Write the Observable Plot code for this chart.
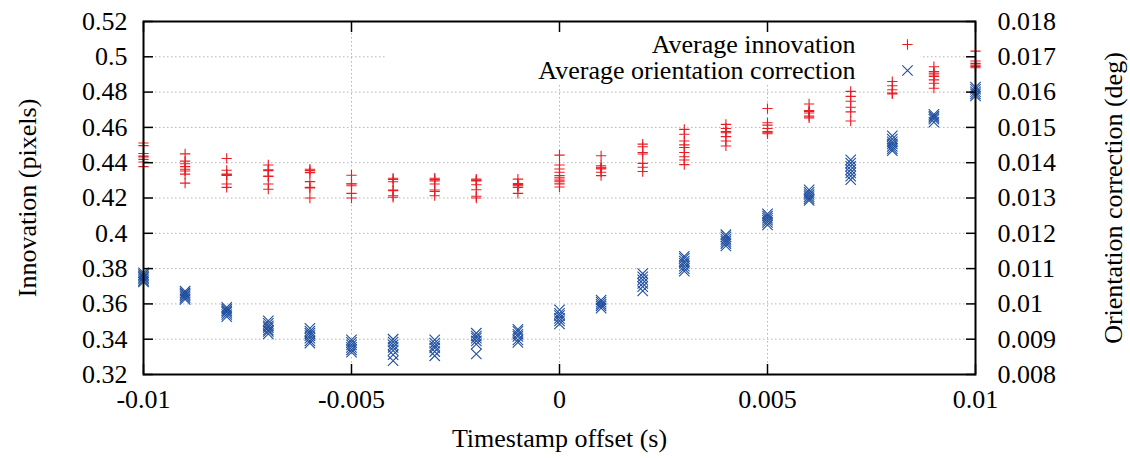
<!DOCTYPE html>
<html><head><meta charset="utf-8">
<script src="https://cdn.jsdelivr.net/npm/d3@7"></script>
<script src="https://cdn.jsdelivr.net/npm/@observablehq/plot@0.6"></script>
<style>html,body{margin:0;padding:0;background:#fff;}</style>
</head><body><div id="chart"></div>
<script>
// ---- data ----
const offsets = [-0.01,-0.009,-0.008,-0.007,-0.006,-0.005,-0.004,-0.003,-0.002,-0.001,0,0.001,0.002,0.003,0.004,0.005,0.006,0.007,0.008,0.009,0.01];
const innovation = [
  [0.4512,0.4497,0.4452,0.4437,0.4432,0.4419,0.4404,0.4378],
  [0.4450,0.4409,0.4394,0.4378,0.4363,0.4353,0.4335,0.4284],
  [0.4424,0.4357,0.4335,0.4331,0.4328,0.4279,0.4260],
  [0.4387,0.4360,0.4355,0.4325,0.4322,0.4279,0.4250],
  [0.4363,0.4355,0.4344,0.4293,0.4260,0.4257,0.4200],
  [0.4329,0.4281,0.4279,0.4269,0.4226,0.4200],
  [0.4312,0.4305,0.4292,0.4245,0.4242,0.4213,0.4204],
  [0.4312,0.4305,0.4297,0.4279,0.4245,0.4237,0.4213],
  [0.4307,0.4300,0.4297,0.4275,0.4247,0.4210,0.4200],
  [0.4307,0.4282,0.4276,0.4269,0.4260,0.4226],
  [0.4443,0.4387,0.4364,0.4346,0.4327,0.4314,0.4301,0.4292,0.4280,0.4262],
  [0.4439,0.4383,0.4374,0.4369,0.4364,0.4346,0.4327],
  [0.4505,0.4490,0.4458,0.4449,0.4396,0.4374,0.4350],
  [0.4589,0.4561,0.4523,0.4501,0.4486,0.4458,0.4434,0.4415,0.4389],
  [0.4617,0.4594,0.4576,0.4570,0.4548,0.4523,0.4495],
  [0.4707,0.4626,0.4613,0.4594,0.4576,0.4570,0.4564],
  [0.4733,0.4695,0.4690,0.4682,0.4664,0.4654],
  [0.4804,0.4776,0.4748,0.4714,0.4688,0.4636],
  [0.4860,0.4836,0.4813,0.4794,0.4790],
  [0.4944,0.4916,0.4907,0.4897,0.4888,0.4869,0.4850,0.4822],
  [0.5032,0.4976,0.4963,0.4953,0.4945,0.4938]
];
const orientation = [
  [0.01088,0.01083,0.01079,0.01075,0.01071,0.01066,0.01062],
  [0.01036,0.01031,0.01027,0.01023,0.01018,0.01013],
  [0.00990,0.00985,0.00980,0.00976,0.00970,0.00964],
  [0.00952,0.00945,0.00938,0.00933,0.00926,0.00922,0.00915],
  [0.00931,0.00923,0.00917,0.00910,0.00903,0.00895,0.00889],
  [0.00898,0.00891,0.00884,0.00877,0.00870,0.00863],
  [0.00900,0.00892,0.00884,0.00877,0.00868,0.00856,0.00839],
  [0.00898,0.00889,0.00881,0.00875,0.00865,0.00853],
  [0.00917,0.00909,0.00903,0.00895,0.00886,0.00858],
  [0.00928,0.00922,0.00914,0.00908,0.00898,0.00891],
  [0.00983,0.00973,0.00967,0.00959,0.00952,0.00943],
  [0.01011,0.01005,0.00999,0.00994,0.00988],
  [0.01086,0.01077,0.01068,0.01058,0.01049,0.01037],
  [0.01135,0.01129,0.01121,0.01115,0.01107,0.01100,0.01093],
  [0.01196,0.01190,0.01183,0.01177,0.01171,0.01164],
  [0.01255,0.01249,0.01243,0.01237,0.01231,0.01224],
  [0.01323,0.01316,0.01310,0.01304,0.01298,0.01293],
  [0.01408,0.01399,0.01390,0.01380,0.01371,0.01362,0.01352],
  [0.01476,0.01467,0.01459,0.01453,0.01446,0.01440,0.01434],
  [0.01537,0.01532,0.01528,0.01523,0.01515],
  [0.01614,0.01608,0.01601,0.01595,0.01589]
];
const seriesNames = ["Average innovation", "Average orientation correction"];
const xTitle = "Timestamp offset (s)";
const yLeftTitle = "Innovation (pixels)";
const yRightTitle = "Orientation correction (deg)";
const xDomain = [-0.01, 0.01];
const leftDomain = [0.32, 0.52];
const rightDomain = [0.008, 0.018];
const xTicks = [-0.01, -0.005, 0, 0.005, 0.01];
const xTickLabels = ["-0.01", "-0.005", "0", "0.005", "0.01"];
const leftTicks = [0.32,0.34,0.36,0.38,0.40,0.42,0.44,0.46,0.48,0.50,0.52];
const leftTickLabels = ["0.32","0.34","0.36","0.38","0.4","0.42","0.44","0.46","0.48","0.5","0.52"];
const rightTicks = [0.008,0.009,0.010,0.011,0.012,0.013,0.014,0.015,0.016,0.017,0.018];
const rightTickLabels = ["0.008","0.009","0.01","0.011","0.012","0.013","0.014","0.015","0.016","0.017","0.018"];

// ---- build ----
const RED = "#ec1c24", BLUE = "#1f4f9f";
const FONT = "'Liberation Serif','Times New Roman',serif";
const toLeft = d3.scaleLinear(rightDomain, leftDomain);
const innovRows = offsets.flatMap((o, i) => innovation[i].map(v => ({offset: o, value: v})));
const orientRows = offsets.flatMap((o, i) => orientation[i].map(v => ({offset: o, value: toLeft(v)})));
const rightTickPos = rightTicks.map(toLeft);
const gridY = leftTicks.slice(1, -1);
const gridX = xTicks.slice(1, -1);
const FS = 26;
const PLUS_R = 3.4, TIMES_R = 4.8;

const chart = Plot.plot({
  width: 1130, height: 458,
  marginLeft: 143, marginRight: 155, marginTop: 21, marginBottom: 84,
  style: {fontFamily: FONT, fontSize: FS + "px", color: "black", background: "white"},
  x: {domain: xDomain},
  y: {domain: leftDomain},
  marks: [
    Plot.ruleY(gridY, {stroke: "#b4b4b4", strokeDasharray: "1.5,2.5", strokeWidth: 1}),
    Plot.ruleX(gridX, {stroke: "#b4b4b4", strokeDasharray: "1.5,2.5", strokeWidth: 1}),
    // opaque key box
    Plot.frame({fill: "white", stroke: "none", insetLeft: 242, insetRight: 55, insetTop: 2, insetBottom: 291}),
    Plot.dot(innovRows, {x: "offset", y: "value", symbol: "plus", r: PLUS_R, stroke: RED, strokeWidth: 1.1}),
    Plot.dot(orientRows, {x: "offset", y: "value", symbol: "times", r: TIMES_R, stroke: BLUE, strokeWidth: 1.1}),
    // key
    Plot.text([seriesNames[0]], {text: d => d, frameAnchor: "top-right", dx: -120, dy: 23.4, textAnchor: "end", lineAnchor: "middle", fontSize: FS}),
    Plot.text([seriesNames[1]], {text: d => d, frameAnchor: "top-right", dx: -120, dy: 49, textAnchor: "end", lineAnchor: "middle", fontSize: FS}),
    Plot.dot([seriesNames[0]], {frameAnchor: "top-right", dx: -68, dy: 23, symbol: "plus", r: PLUS_R, stroke: RED, strokeWidth: 1.1}),
    Plot.dot([seriesNames[1]], {frameAnchor: "top-right", dx: -68, dy: 49, symbol: "times", r: TIMES_R, stroke: BLUE, strokeWidth: 1.1}),
    // axes
    Plot.axisY(leftTicks, {anchor: "left", tickSize: -10, tickPadding: 26, strokeWidth: 1.5, fontSize: FS,
      tickFormat: d => leftTickLabels[leftTicks.indexOf(d)], label: null}),
    Plot.axisY(rightTickPos, {anchor: "right", tickSize: -10, tickPadding: 32, strokeWidth: 1.5, fontSize: FS,
      tickFormat: d => rightTickLabels[rightTickPos.indexOf(d)], label: null}),
    Plot.axisX(xTicks, {anchor: "bottom", tickSize: -10, tickPadding: 25, strokeWidth: 1.5, fontSize: FS,
      tickFormat: d => xTickLabels[xTicks.indexOf(d)], label: null}),
    Plot.axisX(xTicks, {anchor: "top", tickSize: -10, strokeWidth: 1.5, tickFormat: () => "", label: null}),
    Plot.frame({stroke: "black", strokeWidth: 2}),
    // titles
    Plot.text([xTitle], {text: d => d, frameAnchor: "bottom", dy: 64, textAnchor: "middle", lineAnchor: "middle", fontSize: FS}),
    Plot.text([yLeftTitle], {text: d => d, frameAnchor: "left", dx: -116, rotate: -90, textAnchor: "middle", lineAnchor: "middle", fontSize: FS}),
    Plot.text([yRightTitle], {text: d => d, frameAnchor: "right", dx: 138, rotate: -90, textAnchor: "middle", lineAnchor: "middle", fontSize: FS})
  ]
});
document.getElementById("chart").appendChild(chart);
</script>
</body></html>
